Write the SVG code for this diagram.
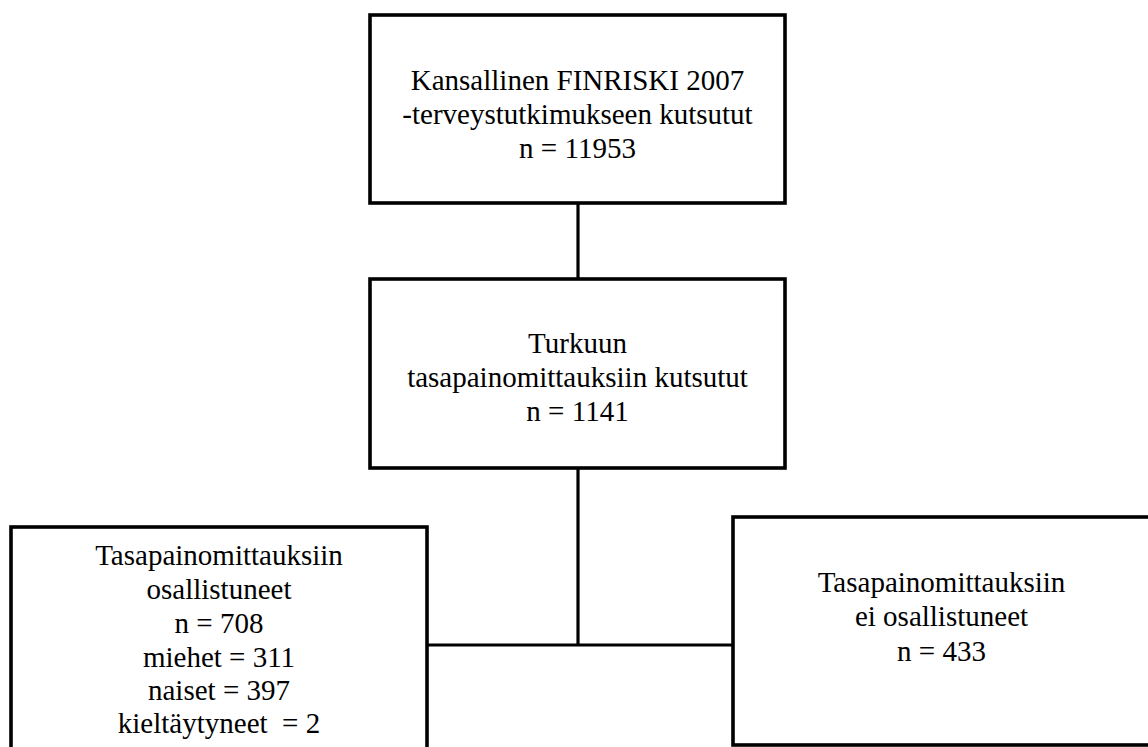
<svg xmlns="http://www.w3.org/2000/svg" width="1148" height="747" viewBox="0 0 1148 747">
<style>
.box{fill:#ffffff;stroke:#000000;stroke-width:3.6}
.conn{fill:none;stroke:#000000;stroke-width:3.2}
text{font-family:"Liberation Serif","Times New Roman",serif;font-size:29px;fill:#000000;text-anchor:middle}
</style>
<rect x="0" y="0" width="1148" height="747" fill="#ffffff"/>
<g id="connectors">
<line class="conn" x1="578" y1="203" x2="578" y2="279"/>
<line class="conn" x1="578" y1="468" x2="578" y2="645"/>
<line class="conn" x1="427" y1="645" x2="733" y2="645"/>
</g>
<g id="node-finriski">
<rect class="box" x="370" y="15" width="415" height="188"/>
<text x="577.5" y="90">Kansallinen FINRISKI 2007</text>
<text x="577.5" y="124">-terveystutkimukseen kutsutut</text>
<text x="577.5" y="158">n = 11953</text>
</g>
<g id="node-turku">
<rect class="box" x="370" y="279" width="415" height="189"/>
<text x="577.5" y="353">Turkuun</text>
<text x="577.5" y="387">tasapainomittauksiin kutsutut</text>
<text x="577.5" y="421">n = 1141</text>
</g>
<g id="node-osallistuneet">
<rect class="box" x="11" y="527" width="416" height="240"/>
<text x="219" y="565">Tasapainomittauksiin</text>
<text x="219" y="599">osallistuneet</text>
<text x="219" y="633">n = 708</text>
<text x="219" y="667">miehet = 311</text>
<text x="219" y="700">naiset = 397</text>
<text x="219" y="733" xml:space="preserve">kieltäytyneet  = 2</text>
</g>
<g id="node-ei-osallistuneet">
<rect class="box" x="733" y="517" width="418" height="228"/>
<text x="941.5" y="592">Tasapainomittauksiin</text>
<text x="941.5" y="626">ei osallistuneet</text>
<text x="941.5" y="661">n = 433</text>
</g>
</svg>
